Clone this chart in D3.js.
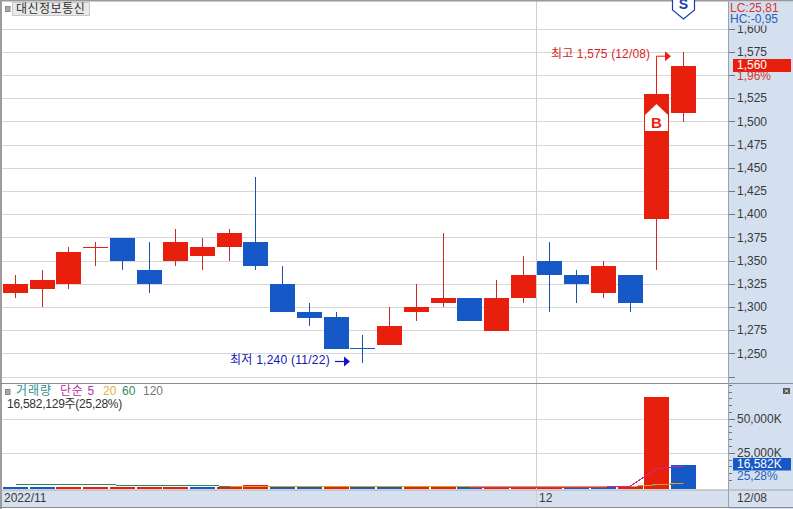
<!DOCTYPE html>
<html>
<head>
<meta charset="utf-8">
<script src="https://cdnjs.cloudflare.com/ajax/libs/d3/7.8.5/d3.min.js"></script>
<style>
    html, body { margin: 0; padding: 0; background: #fff; overflow: hidden; }
    text { font-family: "Liberation Sans", "Noto Sans CJK KR", sans-serif; font-size: 12px; }
</style>
</head>
<body>
<div id="chart"></div>
<script>
// trading days, 2022/11/03 - 2022/12/08
const dates = ["11/03", "11/04", "11/07", "11/08", "11/09", "11/10", "11/11", "11/14", "11/15", "11/16", "11/17", "11/18", "11/21",
    "11/22", "11/23", "11/24", "11/25", "11/28", "11/29", "11/30", "12/01", "12/02", "12/05", "12/06", "12/07", "12/08"];

const opens = [1315, 1320, 1325, 1365, 1375, 1340, 1350, 1355, 1365, 1370, 1325, 1295, 1290, 1256, 1260, 1295, 1305, 1310, 1275, 1310, 1350, 1335, 1315, 1335, 1395, 1510];
const closes = [1325, 1330, 1360, 1365, 1350, 1325, 1370, 1365, 1380, 1345, 1295, 1289, 1255, 1255, 1280, 1300, 1310, 1285, 1310, 1335, 1335, 1325, 1345, 1305, 1530, 1560];
const highs = [1335, 1340, 1365, 1370, 1375, 1370, 1385, 1375, 1385, 1440, 1345, 1305, 1295, 1270, 1300, 1325, 1380, 1310, 1330, 1355, 1370, 1340, 1350, 1335, 1530, 1575];
const lows = [1310, 1300, 1320, 1345, 1340, 1315, 1345, 1340, 1350, 1340, 1295, 1280, 1255, 1240, 1260, 1285, 1300, 1285, 1275, 1305, 1295, 1305, 1310, 1295, 1340, 1500];

// volume in thousands of shares
const volumes = [420, 380, 400, 430, 460, 490, 520, 400, 430, 1750, 700, 420, 500, 400, 330, 420, 560, 150, 160, 520, 600, 400, 320, 1000, 66400, 16582];
const ma5 = [null, null, null, null, null, null, null, null, null, null, null, null, null, null, null, null, null, 100, 100, 100, 100, 100, 100, 950, 13700, 15700];
const ma20 = [null, null, null, null, null, null, null, null, 590, 590, 590, 590, 590, 590, 590, 590, 590, 590, 590, 590, 590, 590, 590, 600, 1900, 2900];
const ma60 = [2100, 2100, 2100, 2100, 1550, 1550, 1550, 1550, 590, 590, 590, 590, 590, 590, 590, 590, 590, 590, 590, 590, 590, 590, 590, 590, 1700, 2800];
const ma120 = [null, null, null, null, null, null, null, null, null, null, null, null, null, null, null, null, null, null, null, null, null, null, null, 590, 1750, 3000];

const priceTicks = [1600, 1575, 1550, 1525, 1500, 1475, 1450, 1425, 1400, 1375, 1350, 1325, 1300, 1275, 1250, 1225];
const hiddenPriceLabels = [1550, 1225];
const volumeTicks = [25000, 50000];
const volumeMinorTicks = [5000, 10000, 15000, 20000, 30000, 35000, 40000, 45000, 55000, 60000, 65000, 70000, 75000];

const width = 793, height = 509,
    plotRight = 729,
    panelLine = 383.5,
    stripTop = 490,
    stripBottom = 507;

const red = "#e91f0d", blue = "#1558c6", redWick = "#cc2a20", blueWick = "#1c52ab",
    sideBg = "#d4e0ef", grid = "#d6d6d6", textColor = "#3a3a3a";

const svg = d3.select("#chart")
    .append("svg")
    .attr("width", width)
    .attr("height", height)
    .style("display", "block");

// Scales
const x = d3.scaleBand()
    .domain(dates)
    .range([2.14, 696.86])
    .paddingInner(0.064)
    .paddingOuter(0.032);
const y = d3.scaleLinear().domain([1600, 1225]).range([29, 377]);
const yVol = d3.scaleLinear().domain([-1250, 75956]).range([489, 384]);

const left = d => Math.round(x(d));
const mid = d => left(d) + 12.5;

// side panel and date strip
svg.append("rect").attr("x", plotRight).attr("y", 0).attr("width", width - plotRight).attr("height", height).attr("fill", sideBg);
svg.append("rect").attr("x", 0).attr("y", stripTop).attr("width", width).attr("height", stripBottom - stripTop).attr("fill", "#d6e0ee");

// grid
svg.append("g")
    .selectAll("line")
    .data(priceTicks)
    .join("line")
    .attr("x1", 2).attr("x2", plotRight)
    .attr("y1", d => y(d)).attr("y2", d => y(d))
    .attr("stroke", grid)
    .attr("shape-rendering", "crispEdges");
svg.append("g")
    .selectAll("line")
    .data(volumeTicks)
    .join("line")
    .attr("x1", 2).attr("x2", plotRight)
    .attr("y1", d => yVol(d)).attr("y2", d => yVol(d))
    .attr("stroke", grid)
    .attr("shape-rendering", "crispEdges");

// month divider
const monthX = left("12/01");
svg.append("line")
    .attr("x1", monthX - 0.5).attr("x2", monthX - 0.5)
    .attr("y1", 0).attr("y2", stripBottom)
    .attr("stroke", "#cfcfcf");

// candles
const isUp = i => closes[i] >= opens[i];
const candles = svg.append("g").attr("shape-rendering", "crispEdges");
candles.selectAll("line")
    .data(dates)
    .join("line")
    .attr("x1", d => mid(d)).attr("x2", d => mid(d))
    .attr("y1", (d, i) => y(highs[i]))
    .attr("y2", (d, i) => y(lows[i]))
    .attr("stroke", (d, i) => isUp(i) ? redWick : blueWick);
candles.selectAll("rect")
    .data(dates)
    .join("rect")
    .attr("x", d => left(d))
    .attr("width", x.bandwidth())
    .attr("y", (d, i) => y(Math.max(opens[i], closes[i])))
    .attr("height", (d, i) => Math.max(1, y(Math.min(opens[i], closes[i])) - y(Math.max(opens[i], closes[i]))))
    .attr("fill", (d, i) => isUp(i) ? red : blue);

// volume bars, colored by change from the previous day
svg.append("g")
    .attr("shape-rendering", "crispEdges")
    .selectAll("rect")
    .data(dates)
    .join("rect")
    .attr("x", d => left(d))
    .attr("width", x.bandwidth())
    .attr("y", (d, i) => yVol(volumes[i]))
    .attr("height", (d, i) => yVol.range()[0] - yVol(volumes[i]))
    .attr("fill", (d, i) => i > 0 && volumes[i] >= volumes[i - 1] ? red : blue);

// volume averages
const maLine = d3.line()
    .defined(d => d[1] !== null)
    .x(d => mid(d[0]))
    .y(d => yVol(d[1]));
[[ma120, "#777777"], [ma60, "#2e8b57"], [ma20, "#d9a520"], [ma5, "#d6209a"]].forEach(function (m) {
    svg.append("path")
        .attr("d", maLine(dates.map((d, i) => [d, m[0][i]])))
        .attr("fill", "none")
        .attr("stroke", m[1])
        .attr("stroke-width", 1)
        .attr("shape-rendering", "crispEdges");
});

// frame
svg.append("rect").attr("x", 0).attr("y", 0).attr("width", width).attr("height", 1.5).attr("fill", "#999");
svg.append("rect").attr("x", 0).attr("y", 0).attr("width", 2).attr("height", height).attr("fill", "#9c9c9c");
svg.append("line").attr("x1", 0).attr("x2", width).attr("y1", panelLine).attr("y2", panelLine).attr("stroke", "#8c8c8c");
svg.append("line").attr("x1", 0).attr("x2", width).attr("y1", stripTop).attr("y2", stripTop).attr("stroke", "#a8a8a8");
svg.append("line").attr("x1", 0).attr("x2", width).attr("y1", stripBottom + 0.5).attr("y2", stripBottom + 0.5).attr("stroke", "#8c8c8c");
svg.append("line").attr("x1", plotRight - 0.5).attr("x2", plotRight - 0.5).attr("y1", 0).attr("y2", stripBottom).attr("stroke", "#9aa3ad");

// Axes
const styleAxis = function (g) {
    g.attr("shape-rendering", "crispEdges");
    g.select(".domain").remove();
    g.selectAll("line").attr("stroke", "#6e7680");
    g.selectAll("text").attr("fill", textColor).attr("shape-rendering", "auto").style("font-size", "12px");
    g.attr("font-family", null).attr("font-size", null);
};
svg.append("g")
    .attr("transform", `translate(${plotRight},0)`)
    .call(d3.axisRight(y)
        .offset(0)
        .tickValues(priceTicks)
        .tickSize(6)
        .tickPadding(2)
        .tickFormat(d => hiddenPriceLabels.includes(d) ? "" : d3.format(",")(d)))
    .call(styleAxis);
svg.append("g")
    .attr("transform", `translate(${plotRight},0)`)
    .call(d3.axisRight(yVol)
        .offset(0)
        .tickValues(volumeMinorTicks)
        .tickSize(3)
        .tickFormat(""))
    .call(styleAxis);
svg.append("g")
    .attr("transform", `translate(${plotRight},0)`)
    .call(d3.axisRight(yVol)
        .offset(0)
        .tickValues(volumeTicks)
        .tickSize(6)
        .tickPadding(2)
        .tickFormat(d => d3.format(",")(d) + "K"))
    .call(styleAxis);

function label(txt, px, py, color, anchor) {
    return svg.append("text")
        .attr("x", px).attr("y", py)
        .attr("fill", color)
        .attr("text-anchor", anchor || "start")
        .attr("dominant-baseline", "middle")
        .text(txt);
}

// LC / HC block sits over the top tick label
svg.append("rect").attr("x", plotRight).attr("y", 1.5).attr("width", width - plotRight).attr("height", 24).attr("fill", sideBg);
label("LC:25,81", 730, 9, "#d8342a");
label("HC:-0,95", 730, 20, "#2a62b8");

// last price and last volume tags
svg.append("rect").attr("x", 733).attr("y", 59).attr("width", 58).attr("height", 13).attr("fill", red);
label("1,560", 737, 65.5, "#fff");
label("1,96%", 737, 77, "#d8342a");
svg.append("rect").attr("x", 733).attr("y", 458).attr("width", 58).attr("height", 12.5).attr("fill", blue);
label("16,582K", 737, 464.5, "#fff");
label("25,28%", 737, 476.5, "#2a62b8");

// date strip labels
label("2022/11", 4, 498.5, textColor);
label("12", monthX + 2, 498.5, textColor);
label("12/08", 737, 498.5, textColor);

// title box
svg.append("rect").attr("x", 5.5).attr("y", 6.5).attr("width", 4.5).attr("height", 5).attr("fill", "#aaa").attr("stroke", "#888");
svg.append("rect").attr("x", 12.5).attr("y", 2.5).attr("width", 77).attr("height", 13).attr("fill", "#e9e9e9").attr("stroke", "#c8c8c8");
label("대신정보통신", 16, 9.5, "#333").style("letter-spacing", "0.5px");

// volume legend
svg.append("rect").attr("x", 5.5).attr("y", 389.5).attr("width", 4.5).attr("height", 5).attr("fill", "#aaa").attr("stroke", "#888");
label("거래량", 16, 392, "#2f8f95").style("letter-spacing", "1px");
label("단순 5", 60, 392, "#b5309f").style("letter-spacing", "0.7px");
label("20", 103, 392, "#dfb23a");
label("60", 122, 392, "#2e8b57");
label("120", 143, 392, "#777");
label("16,582,129주(25,28%)", 7, 405, "#333").style("letter-spacing", "-0.25px");

// close button of the volume panel
svg.append("rect").attr("x", 783).attr("y", 388).attr("width", 7).attr("height", 6).attr("fill", "#555");
svg.append("path").attr("d", "M785,389.5L788,392.5M788,389.5L785,392.5").attr("stroke", "#fff").attr("fill", "none");

// high / low annotations
const hiX = mid("12/07"), hiY = y(1575) + 4;
label("최고 1,575 (12/08)", 551, 55, "#d8242a").style("letter-spacing", "0.15px");
svg.append("path")
    .attr("d", `M${hiX},${y(1530)}V${hiY}H665`)
    .attr("fill", "none").attr("stroke", red);
svg.append("path").attr("d", `M665,${hiY - 5}L671,${hiY}L665,${hiY + 5}Z`).attr("fill", red);

const loY = 361.5;
label("최저 1,240 (11/22)", 230, 360.5, "#1414b4").style("letter-spacing", "0.25px");
svg.append("path").attr("d", `M335,${loY}H344`).attr("stroke", "#1414c8").attr("stroke-width", 1.2).attr("fill", "none");
svg.append("path").attr("d", `M344,${loY - 5}L350,${loY}L344,${loY + 5}Z`).attr("fill", "#1414c8");

// buy marker
svg.append("path")
    .attr("d", `M${hiX - 11.5},115L${hiX},104L${hiX + 11.5},115V131H${hiX - 11.5}Z`)
    .attr("fill", "#fff");
label("B", hiX, 124, red, "middle").style("font-weight", "bold").style("font-size", "15px");

// sell marker, cut by the top edge
const sellX = mid("12/08");
svg.append("path")
    .attr("d", `M${sellX - 11},0V10L${sellX},19L${sellX + 11},10V0`)
    .attr("fill", "#fff").attr("stroke", "#1a3cb4").attr("stroke-width", 1.2);
label("S", sellX, 5.5, "#1a3cb4", "middle").style("font-weight", "bold").style("font-size", "14px");
</script>
</body>
</html>
